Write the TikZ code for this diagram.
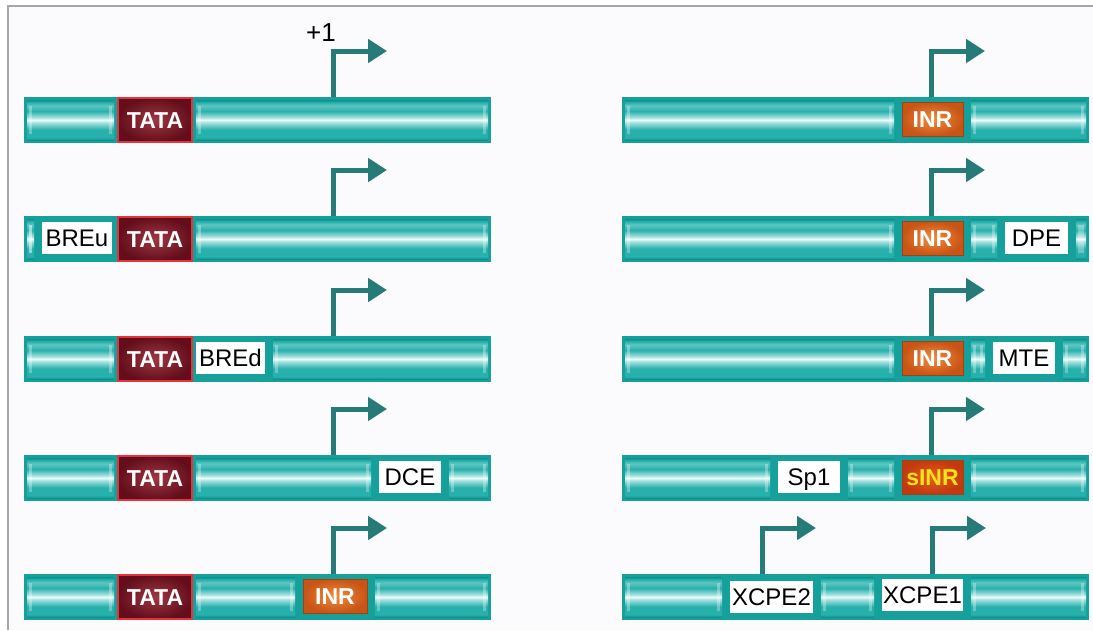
\documentclass[tikz,border=0pt]{standalone}
\usepackage{fontspec}
\setmainfont{Liberation Sans}
\usetikzlibrary{arrows.meta}
\definecolor{tubeDark}{RGB}{12,146,142}
\definecolor{tubeMid}{RGB}{40,176,172}
\definecolor{tubeUp}{RGB}{96,198,194}
\definecolor{tubeLight}{RGB}{165,226,224}
\definecolor{tubeHL}{RGB}{240,251,250}
\definecolor{barbase}{RGB}{22,160,156}
\definecolor{arrowteal}{RGB}{38,122,120}
\definecolor{tataedge}{RGB}{226,52,60}
\definecolor{tatain}{RGB}{158,56,66}
\definecolor{tataout}{RGB}{100,14,28}
\definecolor{inrin}{RGB}{240,140,60}
\definecolor{inrout}{RGB}{200,84,22}
\definecolor{sinrin}{RGB}{228,96,30}
\definecolor{sinrout}{RGB}{196,56,14}
\definecolor{sinrtext}{RGB}{248,226,26}
\definecolor{framegray}{RGB}{165,165,170}
\definecolor{bgwhite}{RGB}{251,251,253}
\pgfdeclareverticalshading{tube}{100bp}{color(0bp)=(tubeDark); color(25bp)=(tubeDark); color(28bp)=(tubeMid); color(38bp)=(tubeMid); color(47bp)=(tubeLight); color(50bp)=(tubeHL); color(53bp)=(tubeLight); color(61bp)=(tubeMid); color(68bp)=(tubeUp); color(72bp)=(tubeMid); color(75bp)=(tubeDark); color(100bp)=(tubeDark)}
\newcommand\tubeseg[3]{%
  \shade[shading=tube] (#1+3,#3+3) rectangle (#2-3,#3+43);
  \fill[white,opacity=.3] (#1+5,#3+9) rectangle (#1+8,#3+37);
  \fill[white,opacity=.3] (#2-8,#3+9) rectangle (#2-5,#3+37);
}
\tikzset{
  bar/.style={fill=barbase, draw=none, inner sep=0pt, minimum width=467pt, minimum height=46pt},
  promoter/.style={draw=arrowteal, line width=5pt, -{Triangle[length=19pt,width=23pt]}},
  tata/.style={draw=tataedge, line width=2pt, inner color=tatain, outer color=tataout,
    text=white, font=\bfseries\fontsize{23}{23}\selectfont, inner sep=0pt,
    minimum width=74pt, minimum height=44pt, text height=16.5pt, text depth=0pt},
  inr/.style={draw=inrout!80!black, line width=0.6pt, inner color=inrin, outer color=inrout,
    text=white, font=\bfseries\fontsize{23}{23}\selectfont, inner sep=0pt,
    minimum height=34pt, text height=16.5pt, text depth=0pt},
  sinr/.style={inr, inner color=sinrin, outer color=sinrout, text=sinrtext},
  lab/.style={fill=white, draw=none, text=black, font=\fontsize{24}{24}\selectfont,
    inner sep=0pt, minimum height=32pt, text height=17pt, text depth=0pt},
  lbl/.style={text=black, font=\fontsize{26}{26}\selectfont, inner sep=0pt}
}
\begin{document}
\begin{tikzpicture}[x=1pt,y=-1pt]
\useasboundingbox (0,0) rectangle (1093,630);
\fill[white] (0,0) rectangle (1093,630);
\fill[bgwhite] (8,6) rectangle (1093,630);
\draw[framegray, line width=1.5pt] (8,630) -- (8,6) -- (1093,6);

% ---------- promoters (arrows) ----------
\coordinate (s1) at (333,97);  \coordinate (t1) at (387,51);
\coordinate (s2) at (333,216); \coordinate (t2) at (387,170);
\coordinate (s3) at (333,336); \coordinate (t3) at (387,290);
\coordinate (s4) at (333,455); \coordinate (t4) at (387,409);
\coordinate (s5) at (333,574); \coordinate (t5) at (387,528);
\coordinate (r1) at (931,97);  \coordinate (u1) at (985,51);
\coordinate (r2) at (931,216); \coordinate (u2) at (985,170);
\coordinate (r3) at (931,336); \coordinate (u3) at (985,290);
\coordinate (r4) at (931,455); \coordinate (u4) at (985,409);
\coordinate (r5) at (932,574); \coordinate (u5) at (986,528);
\coordinate (q5) at (762,574); \coordinate (v5) at (816,528);
\foreach \a/\b in {s1/t1,s2/t2,s3/t3,s4/t4,s5/t5,r1/u1,r2/u2,r3/u3,r4/u4,r5/u5,q5/v5}
  \draw[promoter] (\a) |- (\b);

\node[lbl] (plus1) at (321,32.5) {+1};

% ---------- left column ----------
% row 1
\node[bar] (L1) at (257.5,120) {};
\tubeseg{24}{117}{97}\tubeseg{193}{491}{97}
\node[tata] (tataL1) at (155,120) {TATA};
% row 2
\node[bar] (L2) at (257.5,239) {};
\tubeseg{24}{37}{216}\tubeseg{193}{491}{216}
\node[lab, minimum width=70pt] (breu) at (77,238) {BREu};
\node[tata] (tataL2) at (155,239) {TATA};
% row 3
\node[bar] (L3) at (257.5,359) {};
\tubeseg{24}{117}{336}\tubeseg{270}{491}{336}
\node[tata] (tataL3) at (155,359) {TATA};
\node[lab, minimum width=69pt] (bred) at (230.5,358) {BREd};
% row 4
\node[bar] (L4) at (257.5,478) {};
\tubeseg{24}{117}{455}\tubeseg{193}{374}{455}\tubeseg{446}{491}{455}
\node[tata] (tataL4) at (155,478) {TATA};
\node[lab, minimum width=62pt] (dce) at (410,477) {DCE};
% row 5
\node[bar] (L5) at (257.5,597) {};
\tubeseg{24}{117}{574}\tubeseg{193}{298}{574}\tubeseg{372}{491}{574}
\node[tata] (tataL5) at (155,597) {TATA};
\node[inr, minimum width=64pt] (inrL5) at (335,596) {INR};

% ---------- right column ----------
% row 1
\node[bar] (R1) at (855.5,120) {};
\tubeseg{622}{897}{97}\tubeseg{968}{1089}{97}
\node[inr, minimum width=61pt] (inrR1) at (932.5,119) {INR};
% row 2
\node[bar] (R2) at (855.5,239) {};
\tubeseg{622}{897}{216}\tubeseg{968}{1000}{216}\tubeseg{1073}{1089}{216}
\node[inr, minimum width=61pt] (inrR2) at (932.5,238) {INR};
\node[lab, minimum width=63pt] (dpe) at (1036.5,238) {DPE};
% row 3
\node[bar] (R3) at (855.5,359) {};
\tubeseg{622}{897}{336}\tubeseg{968}{988}{336}\tubeseg{1060}{1089}{336}
\node[inr, minimum width=61pt] (inrR3) at (932.5,358) {INR};
\node[lab, minimum width=62pt] (mte) at (1024,358) {MTE};
% row 4
\node[bar] (R4) at (855.5,478) {};
\tubeseg{622}{773}{455}\tubeseg{845}{897}{455}\tubeseg{968}{1089}{455}
\node[lab, minimum width=62pt] (sp1) at (809,477) {Sp1};
\node[sinr, minimum width=61pt] (sinr) at (932.5,477) {sINR};
% row 5
\node[bar] (R5) at (855.5,597) {};
\tubeseg{622}{725}{574}\tubeseg{818}{877}{574}\tubeseg{968}{1089}{574}
\node[lab, minimum width=83pt] (xcpe2) at (771.5,597) {XCPE2};
\node[lab, minimum width=81pt] (xcpe1) at (922.5,595) {XCPE1};
\end{tikzpicture}
\end{document}
